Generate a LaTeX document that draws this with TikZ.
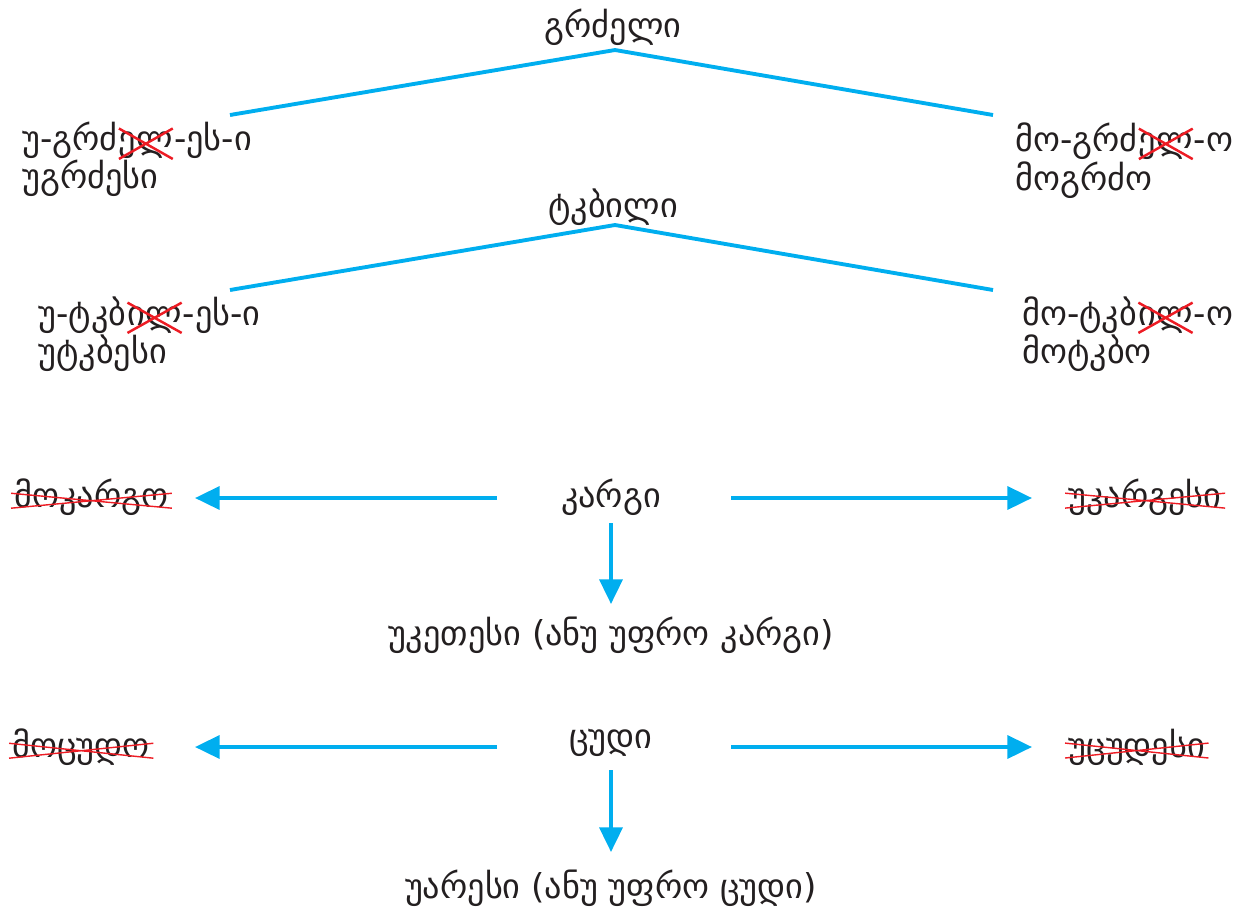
\documentclass[tikz,border=0pt]{standalone}
\usepackage{fontspec}
\setmainfont{DejaVu Sans}
\usetikzlibrary{arrows.meta}
\definecolor{arr}{HTML}{00AEEF}
\definecolor{xred}{HTML}{ED1C24}
\definecolor{ink}{HTML}{231F20}
\newcommand\crossx[1]{\tikz[baseline=(t.base)]{\node[inner sep=0pt,outer sep=0pt](t){#1};\draw[xred,line width=1.4pt] ([yshift=2pt]t.north west)--(t.south east) ([yshift=2pt]t.north east)--(t.south west);}}
\newcommand\strikeword[1]{\tikz[baseline=(t.base)]{\node[inner sep=0pt,outer sep=0pt](t){#1};\draw[xred,line width=0.8pt] ([xshift=-2pt,yshift=8pt]t.base west)--([xshift=2pt,yshift=-0.5pt]t.base east) ([xshift=-2pt,yshift=-0.5pt]t.base west)--([xshift=2pt,yshift=8pt]t.base east);}}
\begin{document}
\begin{tikzpicture}[x=0.02cm,y=-0.02cm,
  txt/.style={font=\fontsize{19.5}{21.6}\selectfont,inner sep=0pt,text=ink},
  blk/.style={txt,align=left,anchor=north west},
  cline/.style={arr,line width=2.2pt},
  carr/.style={arr,line width=2.2pt,-{Triangle[length=14pt,width=13pt]}}]
\useasboundingbox (0,0) rectangle (1244,907);
% first tree
\node[txt] (t1) at (613,27) {გრძელი};
\coordinate (t1a) at (615,50);
\coordinate (t1l) at (230,115);
\coordinate (t1r) at (993,115);
\draw[cline] (t1l) -- (t1a) -- (t1r);
\node[blk] (l1) at (22,122) {უ-გრძ\crossx{ელ}-ეს-ი\\უგრძესი};
\node[blk] (r1) at (1015,122) {მო-გრძ\crossx{ელ}-ო\\მოგრძო};
% second tree
\node[txt] (t2) at (613,207) {ტკბილი};
\coordinate (t2a) at (615,225);
\coordinate (t2l) at (230,290);
\coordinate (t2r) at (993,290);
\draw[cline] (t2l) -- (t2a) -- (t2r);
\node[blk] (l2) at (38,296) {უ-ტკბ\crossx{ილ}-ეს-ი\\უტკბესი};
\node[blk] (r2) at (1022,296) {მო-ტკბ\crossx{ილ}-ო\\მოტკბო};
% karg
\node[txt] (k) at (611,497) {კარგი};
\node[txt,anchor=west] (kl) at (10,497) {\strikeword{მოკარგო}};
\node[txt,anchor=west] (kr) at (1064,497) {\strikeword{უკარგესი}};
\node[txt] (kb) at (611,635) {უკეთესი (ანუ უფრო კარგი)};
\coordinate (kls) at (497,498);
\coordinate (kle) at (195,498);
\coordinate (krs) at (731,498);
\coordinate (kre) at (1032,498);
\coordinate (kds) at (611,523);
\coordinate (kde) at (611,604);
\draw[carr] (kls) -- (kle);
\draw[carr] (krs) -- (kre);
\draw[carr] (kds) -- (kde);
% tsud
\node[txt] (c) at (611,743) {ცუდი};
\node[txt,anchor=west] (cl) at (8,747) {\strikeword{მოცუდო}};
\node[txt,anchor=west] (cr) at (1064,747) {\strikeword{უცუდესი}};
\node[txt] (cb) at (611,888) {უარესი (ანუ უფრო ცუდი)};
\coordinate (cls) at (497,747);
\coordinate (cle) at (195,747);
\coordinate (crs) at (731,747);
\coordinate (cre) at (1032,747);
\coordinate (cds) at (611,770);
\coordinate (cde) at (611,852);
\draw[carr] (cls) -- (cle);
\draw[carr] (crs) -- (cre);
\draw[carr] (cds) -- (cde);
\end{tikzpicture}
\end{document}
